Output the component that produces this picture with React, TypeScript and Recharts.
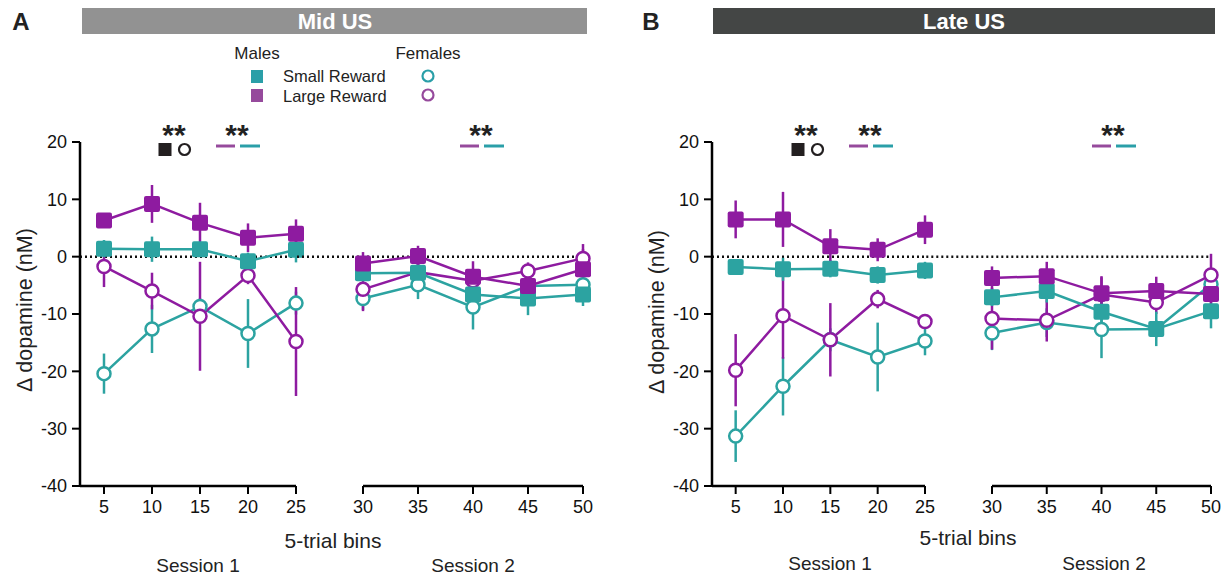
import React from 'react';
import { LineChart, Line, XAxis, YAxis, ErrorBar, ReferenceLine } from 'recharts';

// 5-trial bins, session 1 = 5..25, session 2 = 30..50
const bins = [5, 10, 15, 20, 25, 30, 35, 40, 45, 50];
const session1Ticks = [5, 10, 15, 20, 25];
const session2Ticks = [30, 35, 40, 45, 50];
const yTicks = [-40, -30, -20, -10, 0, 10, 20];

// Mid US
const midMaleSmall = [1.4, 1.3, 1.3, -0.8, 1.2, -2.9, -2.8, -6.6, -7.3, -6.6];
const midMaleSmallSem = [1.5, 2.2, 1.0, 1.5, 2.2, 1.2, 1.5, 2.0, 2.9, 2.0];
const midMaleLarge = [6.3, 9.2, 5.9, 3.3, 4.0, -1.2, 0.1, -3.5, -5.1, -2.2];
const midMaleLargeSem = [1.3, 3.3, 3.5, 2.5, 2.5, 2.0, 1.8, 2.7, 2.0, 3.5];
const midFemaleSmall = [-20.4, -12.6, -8.7, -13.4, -8.1, -7.3, -4.9, -8.8, -5.1, -4.9];
const midFemaleSmallSem = [3.5, 4.2, 1.5, 6.0, 2.0, 2.0, 2.5, 3.9, 1.5, 1.5];
const midFemaleLarge = [-1.7, -6.0, -10.4, -3.3, -14.8, -5.7, -2.7, -4.2, -2.5, -0.3];
const midFemaleLargeSem = [3.6, 3.2, 9.5, 1.5, 9.5, 3.8, 1.5, 2.0, 1.5, 2.5];

// Late US
const lateMaleSmall = [-1.8, -2.2, -2.1, -3.2, -2.4, -7.1, -6.0, -9.6, -12.6, -9.5];
const lateMaleSmallSem = [1.0, 2.0, 1.5, 1.5, 1.5, 1.5, 2.0, 2.0, 3.0, 3.0];
const lateMaleLarge = [6.5, 6.5, 1.8, 1.2, 4.7, -3.7, -3.4, -6.4, -6.0, -6.5];
const lateMaleLargeSem = [3.3, 4.8, 3.0, 2.0, 2.5, 2.0, 2.5, 3.0, 2.5, 3.0];
const lateFemaleSmall = [-31.3, -22.6, -14.5, -17.5, -14.7, -13.3, -11.5, -12.7, -12.6, -4.8];
const lateFemaleSmallSem = [4.5, 5.1, 2.0, 6.0, 2.5, 3.0, 2.5, 5.0, 1.5, 2.0];
const lateFemaleLarge = [-19.8, -10.3, -14.5, -7.4, -11.3, -10.8, -11.1, -6.6, -8.0, -3.2];
const lateFemaleLargeSem = [6.3, 7.5, 6.4, 1.6, 1.0, 5.4, 3.7, 3.0, 2.0, 3.7];

const W = 1230;
const H = 578;
const PLOT_TOP = 142;
const PLOT_BOTTOM = 486;
const X_AXIS_H = 30;
const Y_AXIS_W = 50;
const FONT = "'Liberation Sans', Arial, Helvetica, sans-serif";

const PURPLE = '#8E1BA0';
const TEAL = '#2CA3A1';
const LEGEND_PURPLE = '#964A9C';
const LEGEND_TEAL = '#2A9FA8';

const buildRows = (ms, msE, ml, mlE, fs, fsE, fl, flE) =>
  bins.map((bin, i) => ({
    bin,
    ms: ms[i], msErr: msE[i],
    ml: ml[i], mlErr: mlE[i],
    fs: fs[i], fsErr: fsE[i],
    fl: fl[i], flErr: flE[i],
  }));

const midRows = buildRows(midMaleSmall, midMaleSmallSem, midMaleLarge, midMaleLargeSem,
  midFemaleSmall, midFemaleSmallSem, midFemaleLarge, midFemaleLargeSem);
const lateRows = buildRows(lateMaleSmall, lateMaleSmallSem, lateMaleLarge, lateMaleLargeSem,
  lateFemaleSmall, lateFemaleSmallSem, lateFemaleLarge, lateFemaleLargeSem);

// drawing order: females below, males on top
const series = [
  { key: 'fs', color: TEAL, filled: false },
  { key: 'fl', color: PURPLE, filled: false },
  { key: 'ms', color: TEAL, filled: true },
  { key: 'ml', color: PURPLE, filled: true },
];

const makeDot = (color: string, filled: boolean) => (props: any) => {
  const { cx, cy, index } = props;
  if (cx == null || cy == null) return <g key={`d-${index}`} />;
  if (filled) {
    return <rect key={`d-${index}`} x={cx - 8} y={cy - 8} width={16} height={16} rx={2} fill={color} />;
  }
  return <circle key={`d-${index}`} cx={cx} cy={cy} r={6.5} fill="#fff" stroke={color} strokeWidth={2.5} />;
};

interface SessionProps {
  rows: any[];
  plotLeft: number;
  plotRight: number;
  domain: [number, number];
  ticks: number[];
  withYAxis: boolean;
}

function SessionChart({ rows, plotLeft, plotRight, domain, ticks, withYAxis }: SessionProps) {
  const margin = {
    top: PLOT_TOP,
    bottom: H - PLOT_BOTTOM - X_AXIS_H,
    left: withYAxis ? plotLeft - Y_AXIS_W : plotLeft,
    right: W - plotRight,
  };
  const data = rows.filter((r) => r.bin >= ticks[0] && r.bin <= ticks[ticks.length - 1]);
  return (
    <div style={{ position: 'absolute', left: 0, top: 0 }}>
      <LineChart width={W} height={H} data={data} margin={margin} style={{ fontFamily: FONT }}>
        <XAxis
          dataKey="bin"
          type="number"
          domain={domain}
          ticks={ticks}
          interval={0}
          height={X_AXIS_H}
          axisLine={{ stroke: '#000', strokeWidth: 2.5 }}
          tickLine={{ stroke: '#000', strokeWidth: 2 }}
          tickSize={8}
          tickMargin={6}
          tick={{ fill: '#111', fontSize: 18 }}
        />
        <YAxis
          hide={!withYAxis}
          type="number"
          domain={[-40, 20]}
          ticks={yTicks}
          interval={0}
          width={Y_AXIS_W}
          axisLine={{ stroke: '#000', strokeWidth: 2.5 }}
          tickLine={{ stroke: '#000', strokeWidth: 2 }}
          tickSize={8}
          tickMargin={5}
          tick={{ fill: '#111', fontSize: 18 }}
        />
        {withYAxis ? (
          <ReferenceLine y={0} stroke="#111" strokeWidth={2.5} strokeDasharray="2 3" />
        ) : (
          <ReferenceLine
            segment={[{ x: 24, y: 0 }, { x: 50, y: 0 }]}
            ifOverflow="visible"
            stroke="#111"
            strokeWidth={2.5}
            strokeDasharray="2 3"
          />
        )}
        {series.map((s) => (
          <Line
            key={s.key}
            type="linear"
            dataKey={s.key}
            stroke={s.color}
            strokeWidth={2.5}
            dot={makeDot(s.color, s.filled)}
            activeDot={false}
            isAnimationActive={false}
          >
            <ErrorBar dataKey={`${s.key}Err`} width={0} stroke={s.color} strokeWidth={2.5} direction="y" />
          </Line>
        ))}
      </LineChart>
    </div>
  );
}

function Stars({ x }: { x: number }) {
  return (
    <text x={x} y={145} textAnchor="middle" fontSize={30} fontWeight="bold" fill="#222">**</text>
  );
}

function PairLines({ x }: { x: number }) {
  return (
    <g>
      <line x1={x} x2={x + 19} y1={146} y2={146} stroke={LEGEND_PURPLE} strokeWidth={3} />
      <line x1={x + 24} x2={x + 44} y1={146} y2={146} stroke={LEGEND_TEAL} strokeWidth={3} />
    </g>
  );
}

function SexMarks({ x }: { x: number }) {
  return (
    <g>
      <rect x={x - 6.5} y={143} width={13} height={13} fill="#231f20" />
      <circle cx={x + 19.5} cy={149.5} r={5.5} fill="none" stroke="#231f20" strokeWidth={2.2} />
    </g>
  );
}

function Overlay() {
  return (
    <svg width={W} height={H} style={{ position: 'absolute', left: 0, top: 0, pointerEvents: 'none' }} fontFamily={FONT}>
      {/* panel headers */}
      <text x={21} y={21} textAnchor="middle" dominantBaseline="central" fontSize={24} fontWeight="bold" fill="#222">A</text>
      <rect x={82} y={8} width={505} height={26} fill="#929292" />
      <text x={335} y={21} textAnchor="middle" dominantBaseline="central" fontSize={22} fontWeight="bold" fill="#fff">Mid US</text>
      <text x={651} y={21} textAnchor="middle" dominantBaseline="central" fontSize={24} fontWeight="bold" fill="#222">B</text>
      <rect x={713} y={8} width={502} height={26} fill="#444645" />
      <text x={964} y={21} textAnchor="middle" dominantBaseline="central" fontSize={22} fontWeight="bold" fill="#fff">Late US</text>

      {/* legend */}
      <text x={257} y={53} textAnchor="middle" dominantBaseline="central" fontSize={17} fill="#222">Males</text>
      <text x={428} y={53} textAnchor="middle" dominantBaseline="central" fontSize={17} fill="#222">Females</text>
      <rect x={251} y={70} width={12} height={13} fill={LEGEND_TEAL} />
      <text x={283} y={76} dominantBaseline="central" fontSize={16.5} fill="#222">Small Reward</text>
      <circle cx={428} cy={76} r={5.5} fill="none" stroke={LEGEND_TEAL} strokeWidth={2.2} />
      <rect x={251} y={89} width={12} height={13} fill={LEGEND_PURPLE} />
      <text x={283} y={95.5} dominantBaseline="central" fontSize={16.5} fill="#222">Large Reward</text>
      <circle cx={428} cy={95} r={5.5} fill="none" stroke={LEGEND_PURPLE} strokeWidth={2.2} />

      {/* significance marks */}
      <Stars x={174} />
      <SexMarks x={165} />
      <Stars x={237} />
      <PairLines x={216} />
      <Stars x={481} />
      <PairLines x={460} />
      <Stars x={806} />
      <SexMarks x={798} />
      <Stars x={870} />
      <PairLines x={849} />
      <Stars x={1113} />
      <PairLines x={1092} />

      {/* axis titles */}
      <text x={25} y={310} transform="rotate(-90 25 310)" textAnchor="middle" dominantBaseline="central" fontSize={21.5} fill="#222">Δ dopamine (nM)</text>
      <text x={657} y={312} transform="rotate(-90 657 312)" textAnchor="middle" dominantBaseline="central" fontSize={21.5} fill="#222">Δ dopamine (nM)</text>
      <text x={333} y={540} textAnchor="middle" dominantBaseline="central" fontSize={21} fill="#222">5-trial bins</text>
      <text x={968} y={537} textAnchor="middle" dominantBaseline="central" fontSize={21} fill="#222">5-trial bins</text>
      <text x={198} y={565} textAnchor="middle" dominantBaseline="central" fontSize={19} fill="#222">Session 1</text>
      <text x={473} y={565} textAnchor="middle" dominantBaseline="central" fontSize={19} fill="#222">Session 2</text>
      <text x={830} y={563} textAnchor="middle" dominantBaseline="central" fontSize={19} fill="#222">Session 1</text>
      <text x={1104} y={563} textAnchor="middle" dominantBaseline="central" fontSize={19} fill="#222">Session 2</text>
    </svg>
  );
}

export default function App() {
  return (
    <div style={{ position: 'absolute', left: 0, top: 0, width: W, height: H, background: '#fff', fontFamily: FONT }}>
      <SessionChart rows={midRows} plotLeft={80} plotRight={296} domain={[2.5, 25]} ticks={session1Ticks} withYAxis />
      <SessionChart rows={midRows} plotLeft={363} plotRight={583} domain={[30, 50]} ticks={session2Ticks} withYAxis={false} />
      <SessionChart rows={lateRows} plotLeft={712} plotRight={925} domain={[2.5, 25]} ticks={session1Ticks} withYAxis />
      <SessionChart rows={lateRows} plotLeft={992} plotRight={1211} domain={[30, 50]} ticks={session2Ticks} withYAxis={false} />
      <Overlay />
    </div>
  );
}
